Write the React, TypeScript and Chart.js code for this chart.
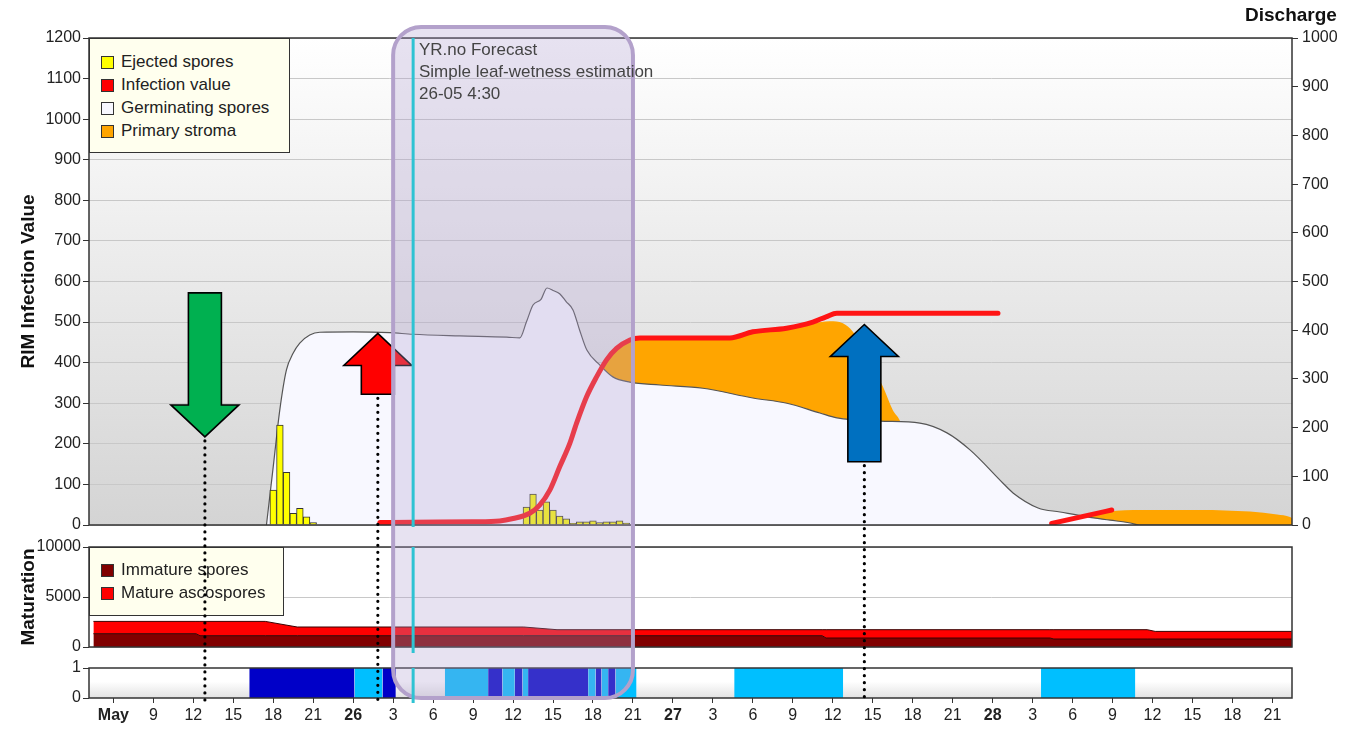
import React, { useEffect, useRef } from "react";
import { Chart, registerables } from "chart.js";

Chart.register(...registerables);

const FONT = "'Liberation Sans', Arial, Helvetica, sans-serif";
Chart.defaults.font.family = FONT;

// ---------- X axis: hours since 25 May 00:00 ----------
const xMinHour = 4.17;
const xMaxHour = 94.47;
const xTickHours = [6, 9, 12, 15, 18, 21, 24, 27, 30, 33, 36, 39, 42, 45, 48, 51, 54, 57, 60, 63, 66, 69, 72, 75, 78, 81, 84, 87, 90, 93];
const xTickLabels = ["May", "9", "12", "15", "18", "21", "26", "3", "6", "9", "12", "15", "18", "21", "27", "3", "6", "9", "12", "15", "18", "21", "28", "3", "6", "9", "12", "15", "18", "21"];
const boldTickLabels = ["May", "26", "27", "28"];

// ---------- Top panel: RIM infection ----------
const ejectedHours = [18, 18.5, 19, 19.5, 20, 20.5, 21, 37, 37.5, 38, 38.5, 39, 39.5, 40, 40.5, 41, 41.5, 42, 42.5, 43, 43.5, 44, 44.5];
const ejectedValues = [86, 246, 130, 29, 41, 20, 6, 44, 76, 37, 57, 37, 22, 15, 4, 8, 8, 10, 6, 8, 8, 10, 5];

const infectionHours = [26.0, 28.5, 33.0, 35.0, 36.0, 37.25, 38.0, 38.76, 39.51, 40.26, 40.77, 41.52, 42.27, 43.02, 43.77, 44.77, 45.52, 52.28, 54.0, 56.53, 58.5, 59.5, 60.3, 72.4, 74.0, 76.43, 80.94];
const infectionValues = [6, 7, 8, 10, 16, 29, 49, 86, 144, 201, 251, 316, 365, 407, 435, 456, 461, 461, 476, 485, 500, 513, 522, 522, null, 4, 37];

const germHours = [17.49, 18.0, 18.49, 18.99, 19.49, 19.99, 20.74, 21.49, 24.0, 26.75, 28.47, 32.0, 35.53, 36.51, 37.0, 37.5, 38.1, 38.55, 39.0, 39.5, 40.0, 40.5, 41.0, 41.54, 42.52, 43.49, 44.77, 47.02, 50.25, 54.0, 56.56, 59.03, 60.31, 63.54, 66.54, 68.57, 70.3, 72.78, 73.53, 75.41, 77.06, 79.09, 80.82, 82.32, 83.0, 89.08];
const germValues = [0, 144, 283, 382, 423, 448, 468, 475, 476, 474, 470, 466, 463, 461, 500, 542, 556, 584, 578, 570, 550, 530, 480, 431, 394, 365, 352, 345, 337, 313, 300, 276, 264, 256, 251, 227, 185, 103, 79, 42, 32, 20, 12, 5, 0, 0];

const stromaHours = [41.5, 42.27, 42.5, 43.02, 43.77, 44.77, 45.5, 52.28, 54.0, 56.53, 58.5, 59.78, 60.76, 61.51, 63.01, 63.76, 64.51, 65.04, 65.6, 66.0, 79.0, 79.3, 80.06, 82.54, 87.57, 91.32, 93.35, 94.32, 94.6];
const stromaValues = [300, 362, 388, 405, 433, 453, 457, 457, 472, 481, 496, 502, 497, 476, 390, 341, 283, 257, 200, null, 12, 20, 29, 37, 37, 33, 26, 20, 14];

// ---------- Middle panel: maturation ----------
const maturationHours = [4.5, 12.2, 12.5, 17.4, 19.8, 36.8, 39.3, 59.2, 59.5, 76.3, 76.6, 83.6, 84.2, 94.5];
const immatureValues = [1330, 1330, 1130, 1130, 1130, 1130, 1130, 1130, 900, 900, 800, 800, 800, 800];
const matureValues = [1230, 1230, 1430, 1430, 870, 870, 600, 600, 830, 830, 930, 930, 760, 760];

// ---------- Bottom panel: leaf wetness ----------
const wetDarkStart = [16.2, 26.2, 34.13, 36.13, 37.13, 42.2, 43.14];
const wetDarkEnd = [24.1, 27.2, 35.2, 36.71, 41.64, 42.64, 43.69];
const wetLightStart = [24.1, 30.88, 35.2, 36.71, 41.64, 42.64, 43.69, 52.6, 75.63];
const wetLightEnd = [26.2, 34.13, 36.13, 37.13, 42.2, 43.14, 45.27, 60.78, 82.71];

// ---------- Annotations ----------
const arrowHours = [12.87, 25.85, 62.37];
const arrowTipValues = [217, 472, 494];
const arrowTailValues = [572, 322, 156];
const arrowColors = ["#00b050", "#ff0000", "#0070c0"];
const forecastStartHour = 27.0;
const forecastEndHour = 45.0;
const nowHour = 28.5;

// ---------- layout ----------
const W = 1354;
const H = 729;
const PLOT_LEFT = 89;
const RIGHT_W = W - 1292;

const zip = (xs: number[], ys: (number | null)[]) => xs.map((x, i) => ({ x, y: ys[i] }));
const blocks = (s: number[], e: number[]) =>
  s.flatMap((v, i) => [{ x: v, y: 1 }, { x: e[i], y: 1 }, { x: e[i], y: null }]);

const common: any = {
  responsive: false,
  animation: false,
  events: [],
  plugins: { legend: { display: false }, tooltip: { enabled: false }, title: { display: false } },
};

function xAxis(display: boolean): any {
  return {
    type: "linear",
    min: xMinHour,
    max: xMaxHour,
    display,
    offset: false,
    afterBuildTicks: (s: any) => {
      s.ticks = xTickHours.map((v) => ({ value: v }));
    },
    afterFit: (s: any) => {
      if (display) s.height = 31;
    },
    ticks: {
      autoSkip: false,
      maxRotation: 0,
      minRotation: 0,
      padding: 3,
      color: "#222",
      callback: (v: number) => xTickLabels[xTickHours.indexOf(v)] ?? "",
      font: (c: any) => {
        const lab = xTickLabels[xTickHours.indexOf(c.tick ? c.tick.value : -1)];
        return { family: FONT, size: 16, weight: boldTickLabels.includes(lab) ? "bold" : "normal" };
      },
    },
    grid: { offset: false, drawOnChartArea: false, tickColor: "#333", tickLength: 5, color: "#333" },
    border: { display: false },
  };
}

function leftAxis(min: number, max: number, step: number, title: string | null, gridOnArea: boolean, stacked = false): any {
  return {
    type: "linear",
    position: "left",
    min,
    max,
    stacked,
    afterFit: (s: any) => {
      s.width = PLOT_LEFT;
    },
    ticks: { stepSize: step, padding: 2, color: "#222", font: { size: 16 }, callback: (v: number) => String(v) },
    grid: { drawOnChartArea: gridOnArea, color: "#c8c8c8", tickColor: "#333", tickLength: 6, lineWidth: 1 },
    border: { display: false },
    title: title
      ? { display: true, text: title, color: "#111", font: { size: 19, weight: "bold" }, padding: { top: 17, bottom: 0 } }
      : { display: false },
  };
}

function panelPlugin(fill: (ctx: CanvasRenderingContext2D, a: any) => any): any {
  return {
    id: "panelDecor",
    beforeDraw(chart: any) {
      const { ctx, chartArea: a } = chart;
      ctx.save();
      ctx.fillStyle = fill(ctx, a);
      ctx.fillRect(a.left, a.top, a.right - a.left, a.bottom - a.top);
      ctx.restore();
    },
    afterDatasetsDraw(chart: any) {
      const { ctx, chartArea: a } = chart;
      ctx.save();
      ctx.strokeStyle = "#333";
      ctx.lineWidth = 1.5;
      ctx.strokeRect(a.left, a.top, a.right - a.left, a.bottom - a.top);
      ctx.restore();
    },
  };
}

function overlayPlugin(charts: any): any {
  return {
    id: "overlay",
    afterDraw(chart: any) {
      const top = charts.top;
      const mid = charts.mid;
      if (!top || !mid) return;
      const ctx: CanvasRenderingContext2D = chart.ctx;
      const xs = top.scales.x;
      const ys = top.scales.y;
      const A1 = top.chartArea;
      const A2 = mid.chartArea;
      const A3 = chart.chartArea;
      ctx.save();
      // arrows + dotted guide lines
      arrowHours.forEach((h, i) => {
        const x = xs.getPixelForValue(h);
        const tip = ys.getPixelForValue(arrowTipValues[i]);
        const tail = ys.getPixelForValue(arrowTailValues[i]);
        const dir = tip < tail ? -1 : 1;
        const headLen = 32;
        const hh = 34;
        const bh = 16.5;
        const base = tip - dir * headLen;
        ctx.beginPath();
        ctx.moveTo(x - bh, tail);
        ctx.lineTo(x + bh, tail);
        ctx.lineTo(x + bh, base);
        ctx.lineTo(x + hh, base);
        ctx.lineTo(x, tip);
        ctx.lineTo(x - hh, base);
        ctx.lineTo(x - bh, base);
        ctx.closePath();
        ctx.fillStyle = arrowColors[i];
        ctx.fill();
        ctx.lineWidth = 1.6;
        ctx.strokeStyle = "#000";
        ctx.lineJoin = "miter";
        ctx.stroke();

        const start = Math.max(tip, tail) + 4;
        ctx.beginPath();
        ctx.setLineDash([0, 7]);
        ctx.lineCap = "round";
        ctx.lineWidth = 3.2;
        ctx.strokeStyle = "#000";
        ctx.moveTo(x, start);
        ctx.lineTo(x, A3.bottom + 5);
        ctx.stroke();
        ctx.setLineDash([]);
        ctx.lineCap = "butt";
      });

      // forecast rounded rectangle
      const l = xs.getPixelForValue(forecastStartHour);
      const r = xs.getPixelForValue(forecastEndHour);
      const t = A1.top - 11;
      const b = A3.bottom;
      const rad = 28;
      ctx.beginPath();
      ctx.moveTo(l + rad, t);
      ctx.arcTo(r, t, r, b, rad);
      ctx.arcTo(r, b, l, b, rad);
      ctx.arcTo(l, b, l, t, rad);
      ctx.arcTo(l, t, r, t, rad);
      ctx.closePath();
      ctx.fillStyle = "rgba(176,158,208,0.3)";
      ctx.fill();
      ctx.lineWidth = 4;
      ctx.strokeStyle = "#b3a1cb";
      ctx.stroke();

      // "now" line
      const cx = xs.getPixelForValue(nowHour);
      ctx.strokeStyle = "#2ec3d3";
      ctx.lineWidth = 3;
      [[A1.top, A1.bottom + 2], [A2.top, A2.bottom + 6], [A3.top, A3.bottom + 5]].forEach(([y0, y1]) => {
        ctx.beginPath();
        ctx.moveTo(cx, y0);
        ctx.lineTo(cx, y1);
        ctx.stroke();
      });
      ctx.restore();
    },
  };
}

const legendBox: React.CSSProperties = {
  position: "absolute",
  boxSizing: "border-box",
  background: "#ffffee",
  border: "1.5px solid #333",
  fontFamily: FONT,
  fontSize: 17,
  color: "#222",
};

function LegendItem({ color, label, y }: { color: string; label: string; y: number }) {
  return (
    <div style={{ position: "absolute", left: 11, top: y - 12, height: 24, display: "flex", alignItems: "center", whiteSpace: "nowrap" }}>
      <span style={{ display: "inline-block", width: 11, height: 11, background: color, border: "1px solid #333", marginRight: 7 }} />
      <span style={{ lineHeight: "24px" }}>{label}</span>
    </div>
  );
}

export default function App() {
  const r1 = useRef<HTMLCanvasElement>(null);
  const r2 = useRef<HTMLCanvasElement>(null);
  const r3 = useRef<HTMLCanvasElement>(null);

  useEffect(() => {
    const charts: any = {};
    charts.top = new Chart(r1.current as HTMLCanvasElement, {
      type: "line",
      data: {
        datasets: [
          {
            label: "Infection value",
            type: "line",
            data: zip(infectionHours, infectionValues),
            borderColor: "#ff1414",
            borderWidth: 5,
            pointRadius: 0,
            fill: false,
            cubicInterpolationMode: "monotone",
            borderCapStyle: "round",
            borderJoinStyle: "round",
            order: 0,
            yAxisID: "y",
          },
          {
            label: "Ejected spores",
            type: "bar",
            data: zip(ejectedHours, ejectedValues),
            backgroundColor: "#ffff00",
            borderColor: "#333",
            borderWidth: 1,
            barPercentage: 1,
            categoryPercentage: 1,
            grouped: false,
            order: 1,
            yAxisID: "y",
          },
          {
            label: "Germinating spores",
            type: "line",
            data: zip(germHours, germValues),
            borderColor: "#555",
            borderWidth: 1.2,
            backgroundColor: "#f8f8ff",
            fill: "origin",
            pointRadius: 0,
            cubicInterpolationMode: "monotone",
            order: 2,
            yAxisID: "y",
          },
          {
            label: "Primary stroma",
            type: "line",
            data: zip(stromaHours, stromaValues),
            borderColor: "rgba(0,0,0,0)",
            borderWidth: 0,
            backgroundColor: "#ffa500",
            fill: "origin",
            pointRadius: 0,
            cubicInterpolationMode: "monotone",
            order: 3,
            yAxisID: "y",
          },
        ] as any,
      },
      options: {
        ...common,
        layout: { padding: { top: 38, bottom: H - 525, left: 0, right: 0 } },
        scales: {
          x: xAxis(false),
          y: leftAxis(0, 1200, 100, "RIM Infection Value", true),
          y1: {
            type: "linear",
            position: "right",
            min: 0,
            max: 1000,
            afterFit: (s: any) => {
              s.width = RIGHT_W;
            },
            ticks: { stepSize: 100, padding: 4, color: "#222", font: { size: 16 }, callback: (v: number) => String(v) },
            grid: { drawOnChartArea: false, tickColor: "#333", tickLength: 6, color: "#333" },
            border: { display: false },
          },
        },
      } as any,
      plugins: [
        panelPlugin((ctx, a) => {
          const g = ctx.createLinearGradient(0, a.top, 0, a.bottom);
          g.addColorStop(0, "#ffffff");
          g.addColorStop(1, "#d4d4d4");
          return g;
        }),
      ],
    });

    charts.mid = new Chart(r2.current as HTMLCanvasElement, {
      type: "line",
      data: {
        datasets: [
          {
            label: "Immature spores",
            data: zip(maturationHours, immatureValues),
            backgroundColor: "#800000",
            borderColor: "#3a0000",
            borderWidth: 1,
            fill: "origin",
            pointRadius: 0,
            tension: 0,
            order: 0,
          },
          {
            label: "Mature ascospores",
            data: zip(maturationHours, matureValues),
            backgroundColor: "#ff0000",
            borderColor: "#3a0000",
            borderWidth: 1,
            fill: "-1",
            pointRadius: 0,
            tension: 0,
            order: 1,
          },
        ] as any,
      },
      options: {
        ...common,
        layout: { padding: { top: 547, bottom: H - 647, left: 0, right: RIGHT_W } },
        scales: {
          x: xAxis(false),
          y: leftAxis(0, 10000, 5000, "Maturation", true, true),
        },
      } as any,
      plugins: [panelPlugin(() => "#ffffff")],
    });

    charts.bot = new Chart(r3.current as HTMLCanvasElement, {
      type: "line",
      data: {
        datasets: [
          {
            label: "Wet (measured)",
            data: blocks(wetDarkStart, wetDarkEnd),
            backgroundColor: "#0000c8",
            borderColor: "rgba(0,0,0,0)",
            borderWidth: 0,
            fill: "origin",
            pointRadius: 0,
            tension: 0,
          },
          {
            label: "Wet (estimated)",
            data: blocks(wetLightStart, wetLightEnd),
            backgroundColor: "#00bfff",
            borderColor: "rgba(0,0,0,0)",
            borderWidth: 0,
            fill: "origin",
            pointRadius: 0,
            tension: 0,
          },
        ] as any,
      },
      options: {
        ...common,
        layout: { padding: { top: 668, bottom: 0, left: 0, right: RIGHT_W } },
        scales: {
          x: xAxis(true),
          y: leftAxis(0, 1, 1, null, false),
        },
      } as any,
      plugins: [
        panelPlugin((ctx, a) => {
          const g = ctx.createLinearGradient(0, a.top, 0, a.bottom);
          g.addColorStop(0, "#ffffff");
          g.addColorStop(0.45, "#ffffff");
          g.addColorStop(1, "#e2e2e2");
          return g;
        }),
        overlayPlugin(charts),
      ],
    });

    return () => {
      charts.bot.destroy();
      charts.mid.destroy();
      charts.top.destroy();
    };
  }, []);

  const canvasStyle: React.CSSProperties = { position: "absolute", left: 0, top: 0 };

  return (
    <div style={{ position: "fixed", left: 0, top: 0, width: W, height: H, background: "#fff", overflow: "hidden" }}>
      <canvas ref={r1} width={W} height={H} style={canvasStyle} />
      <canvas ref={r2} width={W} height={H} style={canvasStyle} />

      <div style={{ ...legendBox, left: 89, top: 38, width: 201, height: 115 }}>
        <LegendItem color="#ffff00" label="Ejected spores" y={23} />
        <LegendItem color="#ff0000" label="Infection value" y={46} />
        <LegendItem color="#f8f8ff" label="Germinating spores" y={69} />
        <LegendItem color="#ffa500" label="Primary stroma" y={92} />
      </div>
      <div style={{ ...legendBox, left: 89, top: 547, width: 195, height: 69 }}>
        <LegendItem color="#800000" label="Immature spores" y={22} />
        <LegendItem color="#ff0000" label="Mature ascospores" y={45} />
      </div>

      <canvas ref={r3} width={W} height={H} style={canvasStyle} />

      <div style={{ position: "absolute", left: 1245, top: 4, fontFamily: FONT, fontSize: 19, fontWeight: "bold", color: "#111", lineHeight: "22px" }}>
        Discharge
      </div>
      <div style={{ position: "absolute", left: 419, top: 39, fontFamily: FONT, fontSize: 17, color: "#444", lineHeight: "22px", whiteSpace: "nowrap" }}>
        <div>YR.no Forecast</div>
        <div>Simple leaf-wetness estimation</div>
        <div>26-05 4:30</div>
      </div>
    </div>
  );
}
